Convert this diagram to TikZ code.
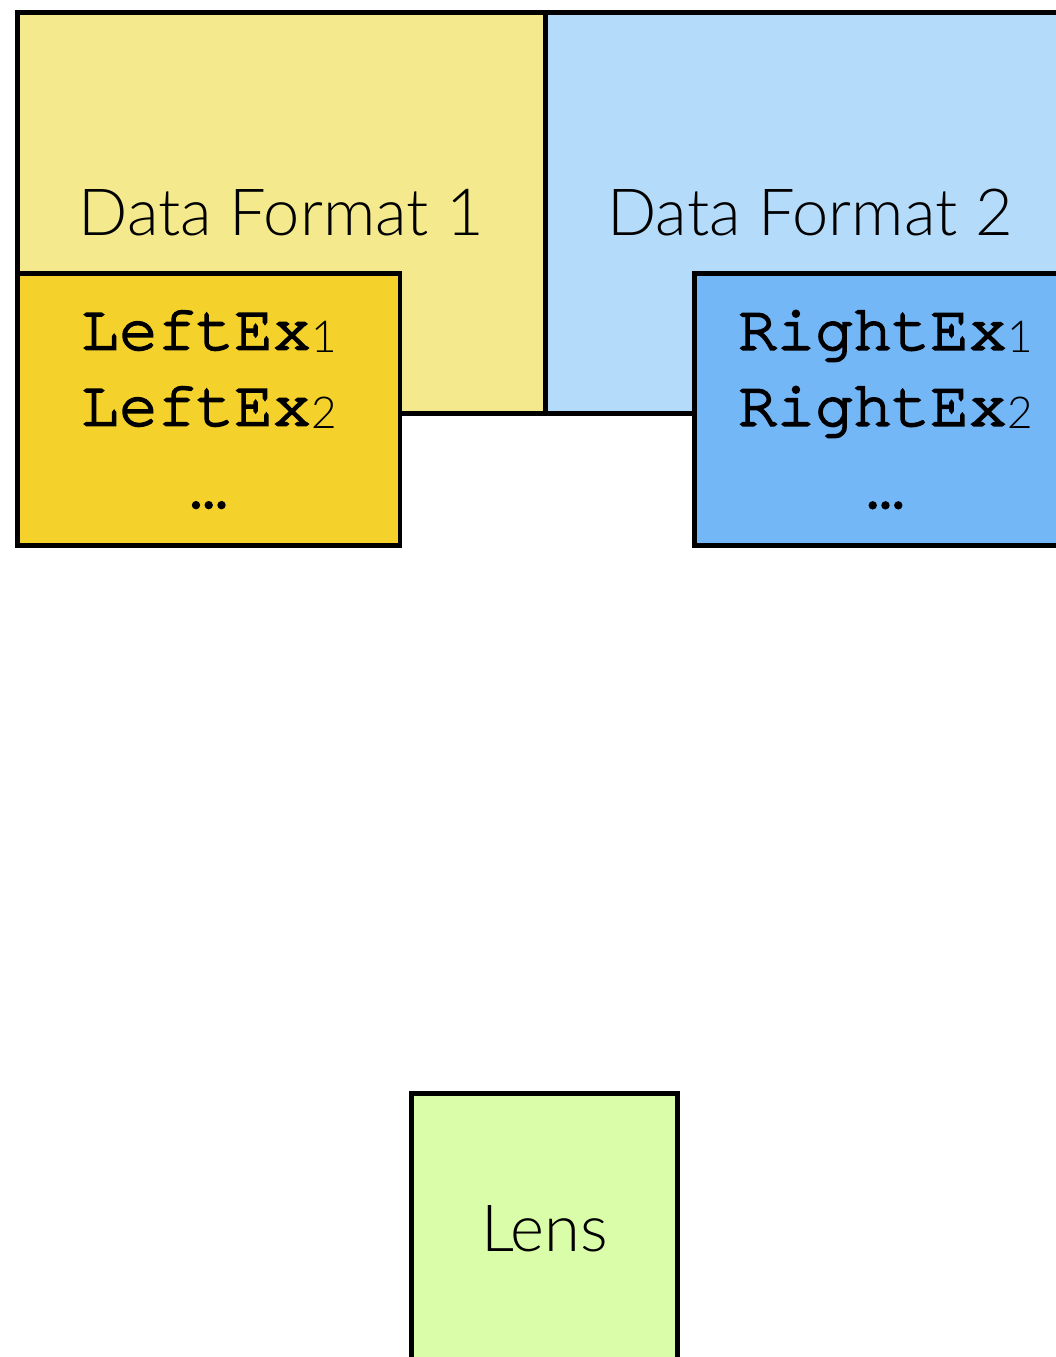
\documentclass[tikz,border=0pt]{standalone}
\usepackage{fontspec}
\setmainfont{Lato}[UprightFont=* Light]
\newfontfamily\monodam{TeX Gyre Cursor}[FakeBold=3]

\definecolor{vangnhat}{HTML}{F5E98D}
\definecolor{vangdam}{HTML}{F5D22B}
\definecolor{xanhnhat}{HTML}{B4DBF9}
\definecolor{xanhdam}{HTML}{74B7F7}
\definecolor{xanhla}{HTML}{DAFDAA}

% Chỉ số dưới kiểu chữ mảnh
\newcommand\chiso[1]{\raisebox{-3pt}{\fontsize{44}{44}\selectfont\rmfamily #1}}

\begin{document}
\begin{tikzpicture}[x=1pt,y=-1pt,
  khung/.style={draw=black,line width=4.8pt,anchor=north west,inner sep=0pt,outer sep=0pt},
  nhan/.style={font=\fontsize{65}{78}\selectfont},
  vidu/.style={font=\fontsize{64}{76}\selectfont\monodam,align=center}]
% Khung giới hạn
\useasboundingbox (0,0) rectangle (1056,1357);

% Vẽ hai khung định dạng dữ liệu
\node[khung,nhan,fill=vangnhat,minimum width=528pt,minimum height=401pt] (df1) at (17.5,12.5) {Data Format 1};
\node[khung,nhan,fill=xanhnhat,minimum width=529pt,minimum height=401pt] (df2) at (545.5,12.5) {Data Format 2};

% Vẽ các ví dụ
\node[khung,vidu,fill=vangdam,minimum width=382.5pt,minimum height=272pt] (leftex) at (17.5,273.5)
  {LeftEx\chiso{1}\\LeftEx\chiso{2}\\\raisebox{-6pt}{…}};
\node[khung,vidu,fill=xanhdam,minimum width=382pt,minimum height=272pt] (rightex) at (694.5,273.5)
  {RightEx\chiso{1}\\RightEx\chiso{2}\\\raisebox{-6pt}{…}};

% Vẽ khung Lens
\node[khung,nhan,fill=xanhla,minimum width=266pt,minimum height=270pt] (lens) at (411.5,1093.5) {Lens};
\end{tikzpicture}
\end{document}
